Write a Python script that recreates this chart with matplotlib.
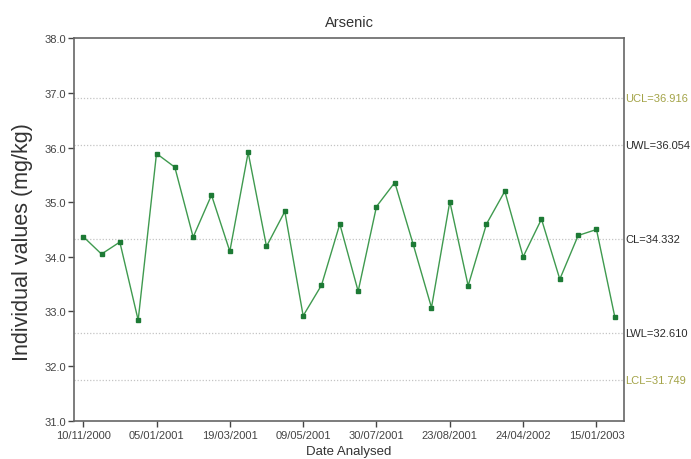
import matplotlib
matplotlib.use("Agg")
import matplotlib.pyplot as plt
import numpy as np

plt.rcParams['font.family'] = ['Liberation Sans', 'DejaVu Sans']

values = [34.37, 34.05, 34.27, 32.84, 35.89, 35.64, 34.36, 35.13, 34.10, 35.91,
          34.19, 34.83, 32.92, 33.48, 34.60, 33.37, 34.92, 35.36, 34.23, 33.07,
          35.01, 33.47, 34.60, 35.20, 34.00, 34.69, 33.59, 34.39, 34.50, 32.90]
tick_labels = ["10/11/2000", "05/01/2001", "19/03/2001", "09/05/2001",
               "30/07/2001", "23/08/2001", "24/04/2002", "15/01/2003"]
limit_names = ["UCL", "UWL", "CL", "LWL", "LCL"]
limit_values = [36.916, 36.054, 34.332, 32.610, 31.749]
limit_colors = ["#a3a347", "#2a2a2a", "#2a2a2a", "#2a2a2a", "#a3a347"]

fig = plt.figure(figsize=(6.91, 4.60), dpi=100)
ax = fig.add_axes([0.1071, 0.0833, 0.7959, 0.8313])

x = np.arange(len(values))
for name, val, col in zip(limit_names, limit_values, limit_colors):
    ax.axhline(val, color="#c4c4c4", linestyle=(0, (1, 1.5)), linewidth=0.9, zorder=1)
    ax.text(1.002, val, f"{name}={val:.3f}", transform=ax.get_yaxis_transform(),
            ha="left", va="center", fontsize=8, color=col)

ax.plot(x, values, color="#3f9a4f", linewidth=1.0, marker="s", markersize=3.5,
        markerfacecolor="#1d7a35", markeredgecolor="#1d7a35", zorder=3)

ax.set_xlim(-0.5, len(values) - 0.5)
ax.set_ylim(31.0, 38.0)
ax.set_yticks(np.arange(31.0, 38.5, 1.0))
ax.set_yticklabels([f"{v:.1f}" for v in np.arange(31.0, 38.5, 1.0)])
ax.set_xticks(np.arange(0, len(values), 4)[:len(tick_labels)])
ax.set_xticklabels(tick_labels)

ax.tick_params(axis="both", direction="out", labelsize=8, colors="#444444",
               length=4, width=1.0, pad=1.5)
ax.tick_params(axis="x", pad=3.0)
ax.tick_params(axis="y", right=False)
for sp in ax.spines.values():
    sp.set_color("#666666")
    sp.set_linewidth(1.2)

ax.set_title("Arsenic", fontsize=10.5, color="#333333", pad=9)
ax.set_xlabel("Date Analysed", fontsize=9.5, color="#333333", labelpad=3)
ax.set_ylabel("Individual values (mg/kg)", fontsize=15.5, color="#333333")
ax.yaxis.set_label_coords(-0.075, 0.47)

fig.savefig("out.png", dpi=100)
